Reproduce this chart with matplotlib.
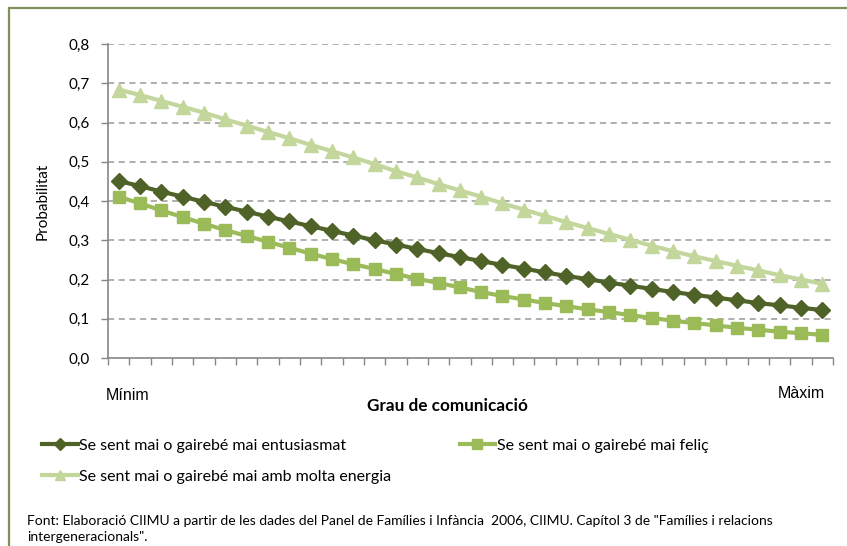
import numpy as np
import matplotlib
matplotlib.use("Agg")
import matplotlib.pyplot as plt
from matplotlib.patches import Rectangle

plt.rcParams['font.family'] = ['Lato', 'DejaVu Sans']

# Data (34 steps from "Mínim" to "Màxim")
entusiasmat = [0.451, 0.438, 0.424, 0.411, 0.398, 0.385, 0.373, 0.360, 0.348, 0.336,
               0.324, 0.312, 0.300, 0.289, 0.278, 0.267, 0.257, 0.247, 0.237, 0.228,
               0.218, 0.209, 0.201, 0.192, 0.184, 0.176, 0.168, 0.161, 0.154, 0.147,
               0.140, 0.134, 0.128, 0.122]
felic = [0.411, 0.394, 0.376, 0.359, 0.342, 0.326, 0.311, 0.296, 0.281, 0.266,
         0.252, 0.239, 0.227, 0.214, 0.202, 0.191, 0.180, 0.168, 0.158, 0.149,
         0.140, 0.132, 0.124, 0.117, 0.109, 0.102, 0.095, 0.089, 0.083, 0.077,
         0.072, 0.067, 0.063, 0.059]
energia = [0.684, 0.670, 0.655, 0.640, 0.625, 0.608, 0.592, 0.576, 0.560, 0.543,
           0.527, 0.511, 0.494, 0.476, 0.460, 0.443, 0.427, 0.411, 0.394, 0.378,
           0.362, 0.346, 0.331, 0.316, 0.301, 0.286, 0.272, 0.259, 0.247, 0.235,
           0.223, 0.211, 0.200, 0.189]
yticks = [0.0, 0.1, 0.2, 0.3, 0.4, 0.5, 0.6, 0.7, 0.8]
labels = ["Se sent mai o gairebé mai entusiasmat",
          "Se sent mai o gairebé mai feliç",
          "Se sent mai o gairebé mai amb molta energia"]
source = ('Font: Elaboració CIIMU a partir de les dades del Panel de Famílies i Infància  2006, CIIMU. '
          'Capítol 3 de "Famílies i relacions\nintergeneracionals".')

W, H = 847, 546
fig = plt.figure(figsize=(W / 100, H / 100), dpi=100)

# outer frame
fig.patches.append(Rectangle((9 / W, -0.02), 1.05, 1 - 8 / H + 0.02, transform=fig.transFigure,
                             fill=False, edgecolor='#7f8f5a', linewidth=1.6))

ax = fig.add_axes([108 / W, (H - 358) / H, (833 - 108) / W, (358 - 44) / H])
x = np.arange(len(entusiasmat))

gray = '#868686'
for v in yticks[1:]:
    ax.axhline(v, color='#989898', linewidth=1.1, dashes=(4, 3), zorder=1)

l1, = ax.plot(x, entusiasmat, color='#4f6228', linewidth=3, marker='D', markersize=8.5,
              zorder=4)
l2, = ax.plot(x, felic, color='#9bbb59', linewidth=3, marker='s', markersize=9, zorder=3)
l3, = ax.plot(x, energia, color='#c3d69b', linewidth=3, marker='^', markersize=10, zorder=2)

ax.set_xlim(-0.5, len(x) - 0.5)
ax.set_ylim(0, 0.8)
ax.set_xticks(np.arange(-0.5, len(x) + 0.5, 1))
ax.set_xticklabels([])
ax.set_yticks(yticks)
ax.set_yticklabels([f"{v:.1f}".replace('.', ',') for v in yticks], fontsize=11)
ax.tick_params(axis='both', direction='out', length=5, color=gray, width=1)
ax.tick_params(axis='y', pad=8)
for s in ['top', 'right']:
    ax.spines[s].set_visible(False)
for s in ['left', 'bottom']:
    ax.spines[s].set_color(gray)
    ax.spines[s].set_linewidth(1.2)

ax.set_ylabel("Probabilitat", fontsize=11, labelpad=14)

fig.text(128 / W, 1 - 395 / H, "Mínim", ha='center', va='center', fontsize=11.5,
         family='Liberation Sans')
fig.text(801 / W, 1 - 393 / H, "Màxim", ha='center', va='center', fontsize=11.5,
         family='Liberation Sans')
fig.text(447 / W, 1 - 406 / H, "Grau de comunicació", ha='center', va='center',
         fontsize=12.3, fontweight='bold')

leg = fig.legend([l1, l3, l2], [labels[0], labels[2], labels[1]], ncol=2,
                 loc='upper left', bbox_to_anchor=(28 / W, 1 - 424 / H), frameon=False,
                 fontsize=11.5, handlelength=2.2, handletextpad=0.1, columnspacing=4.3,
                 labelspacing=1.05, markerscale=0.75)

fig.text(27 / W, 1 - 529 / H, source, ha='left', va='center', fontsize=10,
         linespacing=1.45)

fig.savefig("out.png", dpi=100)
